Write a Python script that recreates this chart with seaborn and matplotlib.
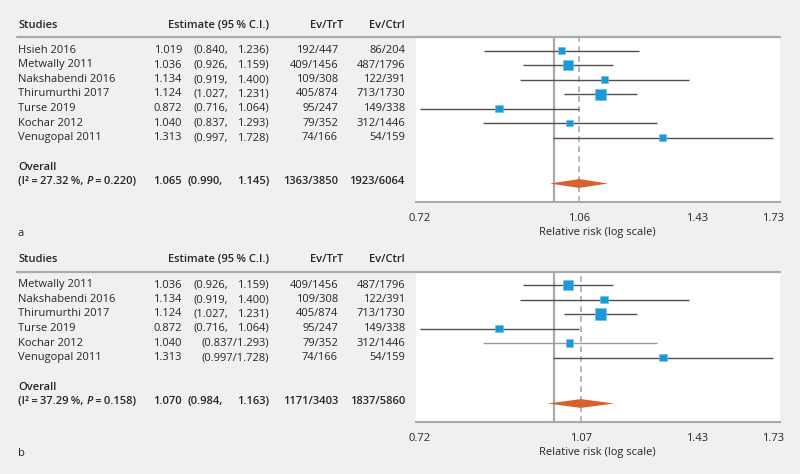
import numpy as np
import pandas as pd
import matplotlib
matplotlib.use("Agg")
import matplotlib.pyplot as plt
import seaborn as sns
from matplotlib.lines import Line2D

# ---------------- data ----------------
studies_a = ["Hsieh 2016", "Metwally 2011", "Nakshabendi 2016", "Thirumurthi 2017",
             "Turse 2019", "Kochar 2012", "Venugopal 2011"]
est_a = [1.019, 1.036, 1.134, 1.124, 0.872, 1.040, 1.313]
lo_a = [0.840, 0.926, 0.919, 1.027, 0.716, 0.837, 0.997]
hi_a = [1.236, 1.159, 1.400, 1.231, 1.064, 1.293, 1.728]
sep_a = [", "] * 7
ev_trt_a = ["192/447", "409/1456", "109/308", "405/874", "95/247", "79/352", "74/166"]
ev_ctrl_a = ["86/204", "487/1796", "122/391", "713/1730", "149/338", "312/1446", "54/159"]
weight_a = [11.0, 20.7, 11.0, 25.0, 12.2, 8.2, 10.1]
overall_a = [1.065, 0.990, 1.145]
overall_i2_a = "27.32"
overall_p_a = "0.220"
overall_trt_a = "1363/3850"
overall_ctrl_a = "1923/6064"
ticks_a = [0.716, 1.065, 1.43, 1.728]
ticklabels_a = ["0.72", "1.06", "1.43", "1.73"]

studies_b = ["Metwally 2011", "Nakshabendi 2016", "Thirumurthi 2017",
             "Turse 2019", "Kochar 2012", "Venugopal 2011"]
est_b = [1.036, 1.134, 1.124, 0.872, 1.040, 1.313]
lo_b = [0.926, 0.919, 1.027, 0.716, 0.837, 0.997]
hi_b = [1.159, 1.400, 1.231, 1.064, 1.293, 1.728]
sep_b = [", ", ", ", ", ", ", ", "/", "/"]
ev_trt_b = ["409/1456", "109/308", "405/874", "95/247", "79/352", "74/166"]
ev_ctrl_b = ["487/1796", "122/391", "713/1730", "149/338", "312/1446", "54/159"]
weight_b = [23.6, 12.2, 28.0, 13.2, 12.2, 11.0]
overall_b = [1.070, 0.984, 1.163]
overall_i2_b = "37.29"
overall_p_b = "0.158"
overall_trt_b = "1171/3403"
overall_ctrl_b = "1837/5860"
ticks_b = [0.716, 1.070, 1.43, 1.728]
ticklabels_b = ["0.72", "1.07", "1.43", "1.73"]

# ---------------- style ----------------
W, H = 800, 474
sns.set_style("white")
FONT = ["Open Sans", "DejaVu Sans"]
plt.rcParams["font.family"] = FONT
FS = 8.0
TXT = "#262626"
BG = "#eff0f0"
GRID = "#aaaaaa"
BLUE = "#1b9ad6"
ORANGE = "#d8612b"
BOLD = "semibold"
TS = "\u2009"

fig = plt.figure(figsize=(W / 100, H / 100), dpi=100, facecolor=BG)
renderer = fig.canvas.get_renderer()


def fx(px):
    return px / W


def fy(py):
    return 1 - py / H


def put(x, y, s, ha="left", bold=False, italic=False, color=TXT):
    return fig.text(fx(x), fy(y), s, ha=ha, va="center", fontsize=FS,
                    fontweight=BOLD if bold else "normal",
                    fontstyle="italic" if italic else "normal", color=color)


def put_seq(x, y, pieces, bold=True):
    for s, it in pieces:
        t = put(x, y, s, bold=bold, italic=it)
        bb = t.get_window_extent(renderer=renderer)
        x += bb.width


def put_ci(y, lo, hi, sep, left, bold=False):
    if sep.strip() == ",":
        put(left, y, f"({lo:.3f},", bold=bold)
        put(269, y, f"{hi:.3f})", ha="right", bold=bold)
    else:
        put(269, y, f"({lo:.3f}{sep}{hi:.3f})", ha="right", bold=bold)


def panel(letter, off, studies, est, lo, hi, sep, trt, ctrl, weight,
          overall, i2, p, otrt, octrl, ticks, ticklabels, light_rows=()):
    n = len(studies)
    row0 = 50.5 + off          # first row centre (px)
    step = 14.5
    top = row0 - 13.5           # header rule
    ov1 = row0 + step * (n - 1) + 29.5
    ov2 = ov1 + 14.5
    dia = ov2 + 2.0
    bottom = dia + 18.0

    ax = fig.add_axes([fx(416), fy(bottom), fx(780) - fx(416), (bottom - top) / H])
    ax.set_facecolor("white")
    ax.set_xscale("log")
    ax.set_xlim(0.709, 1.7585)
    ax.set_ylim(bottom, top)

    ys = [row0 + step * i for i in range(n)]
    ax.axvline(1.0, color=GRID, lw=1.6, zorder=1)
    ax.axvline(overall[0], color=GRID, lw=1.2, ls=(0, (3.5, 2.5)), zorder=1)
    cols = ["#9a9a9a" if i in light_rows else "#505050" for i in range(n)]
    ax.hlines(ys, lo, hi, colors=cols, lw=1.0, zorder=2)
    df = pd.DataFrame({"est": est, "y": ys, "w": weight})
    k = (2.2 * 0.72) ** 2
    sns.scatterplot(data=df, x="est", y="y", size="w", size_norm=(0, 30),
                    sizes=(0, k * 30), marker="s", color=BLUE,
                    edgecolor="#62bce8", linewidth=0.4, legend=False, ax=ax, zorder=3)
    h = 4.4
    ax.fill([overall[1], overall[0], overall[2], overall[0]],
            [dia, dia - h, dia, dia + h], color=ORANGE, lw=0, zorder=3)

    ax.set_xticks(ticks)
    ax.set_xticklabels(ticklabels)
    ax.minorticks_off()
    ax.set_yticks([])
    ax.set_xlabel("")
    ax.set_ylabel("")
    for s in ["top", "left", "right"]:
        ax.spines[s].set_visible(False)
    ax.spines["bottom"].set_color(GRID)
    ax.spines["bottom"].set_linewidth(1.5)
    ax.tick_params(axis="x", direction="out", length=4, width=1.4, color=GRID,
                   labelsize=FS, labelcolor=TXT, pad=4.5)

    # header
    hy = top - 12
    put(18, hy, "Studies", bold=True)
    put(269, hy, "Estimate (95" + TS + "% C.I.)", ha="right", bold=True)
    put(343, hy, "Ev/TrT", ha="right", bold=True)
    put(405, hy, "Ev/Ctrl", ha="right", bold=True)
    fig.add_artist(Line2D([fx(17), fx(780)], [fy(top), fy(top)], color=GRID, lw=1.6))

    for i in range(n):
        y = ys[i]
        put(18, y, studies[i])
        put(182, y, f"{est[i]:.3f}", ha="right")
        put_ci(y, lo[i], hi[i], sep[i], 194)
        put(338, y, trt[i], ha="right")
        put(405, y, ctrl[i], ha="right")

    put(18, ov1, "Overall", bold=True)
    put_seq(18, ov2, [("(I\u00b2" + TS + "=" + TS + i2 + TS + "%, ", False), ("P", True),
                      (TS + "=" + TS + p + ")", False)])
    put(182, ov2, f"{overall[0]:.3f}", ha="right", bold=True)
    put_ci(ov2, overall[1], overall[2], ", ", 188, bold=True)
    put(338, ov2, otrt, ha="right", bold=True)
    put(405, ov2, octrl, ha="right", bold=True)

    put(597, bottom + 30.5, "Relative risk (log scale)", ha="center")
    put(18, bottom + 32, letter)


panel("a", 0, studies_a, est_a, lo_a, hi_a, sep_a, ev_trt_a, ev_ctrl_a, weight_a,
      overall_a, overall_i2_a, overall_p_a, overall_trt_a, overall_ctrl_a,
      ticks_a, ticklabels_a)
panel("b", 234.5, studies_b, est_b, lo_b, hi_b, sep_b, ev_trt_b, ev_ctrl_b,
      weight_b, overall_b, overall_i2_b, overall_p_b, overall_trt_b, overall_ctrl_b,
      ticks_b, ticklabels_b, light_rows=(4,))

fig.savefig("out.png", dpi=100, facecolor=BG)
